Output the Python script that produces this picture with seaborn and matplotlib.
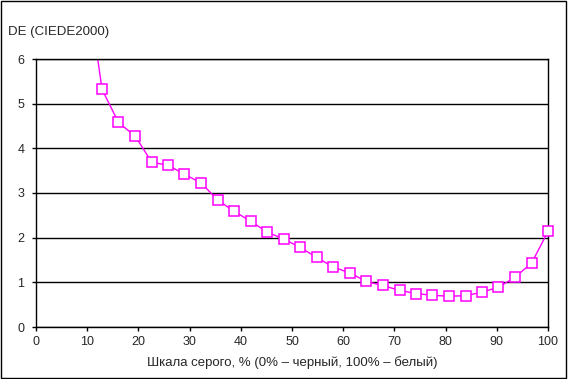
import numpy as np
import pandas as pd
import matplotlib
matplotlib.use("Agg")
import matplotlib.pyplot as plt
import seaborn as sns

gray_pct = [9.7, 12.9, 16.1, 19.4, 22.6, 25.8, 29.0, 32.3, 35.5, 38.7,
            41.9, 45.2, 48.4, 51.6, 54.8, 58.1, 61.3, 64.5, 67.7, 71.0,
            74.2, 77.4, 80.6, 83.9, 87.1, 90.3, 93.5, 96.8, 100.0]
delta_e = [7.9, 5.32, 4.58, 4.27, 3.69, 3.62, 3.42, 3.22, 2.84, 2.59,
           2.37, 2.12, 1.97, 1.78, 1.56, 1.34, 1.21, 1.02, 0.93, 0.82,
           0.75, 0.71, 0.69, 0.70, 0.78, 0.89, 1.11, 1.43, 2.14]

x_ticks = [0, 10, 20, 30, 40, 50, 60, 70, 80, 90, 100]
y_ticks = [0, 1, 2, 3, 4, 5, 6]

df = pd.DataFrame({'gray': gray_pct, 'de': delta_e})

sns.set_style('white')
plt.rcParams['font.family'] = ['Liberation Sans', 'DejaVu Sans']
plt.rcParams['font.size'] = 9

fig = plt.figure(figsize=(5.68, 3.79), dpi=100)
ax = fig.add_axes([36 / 568, 1 - 327 / 379, 512 / 568, 268 / 379])

# line is clipped at the top of the plot, markers are not
sns.lineplot(data=df, x='gray', y='de', ax=ax, color='#ff00ff', lw=1)
shown = df[df['de'] <= 6]
ax.plot(shown['gray'], shown['de'], ls='none', marker='s', markersize=6.5,
        markerfacecolor='white', markeredgecolor='#ff00ff',
        markeredgewidth=1.1, clip_on=False, zorder=5)

ax.set_xlim(0, 100)
ax.set_ylim(0, 6)
ax.set_xticks(x_ticks)
ax.set_yticks(y_ticks)
ax.grid(axis='y', color='black', lw=1)
ax.set_axisbelow(True)
for s in ax.spines.values():
    s.set_color('black')
    s.set_linewidth(1)
ax.tick_params(axis='both', direction='out', length=3, width=1, color='black',
               labelsize=9, bottom=True, left=True)
ax.tick_params(axis='x', pad=3.5)
ax.tick_params(axis='y', pad=5.5)
ax.set_xlabel('')
ax.set_ylabel('')
fig.text(292 / 568, 1 - 362.5 / 379, 'Шкала серого, % (0% – черный, 100% – белый)',
         fontsize=9.5, va='center', ha='center')
fig.text(8 / 568, 1 - 32.5 / 379, 'DE (CIEDE2000)', fontsize=9.5, va='center', ha='left')

# frame round the whole chart
fig.patches.append(plt.Rectangle((0.002, 0.003), 0.995, 0.994, transform=fig.transFigure,
                                 fill=False, edgecolor='black', lw=1))

plt.savefig('out.png', dpi=100)
plt.close()
